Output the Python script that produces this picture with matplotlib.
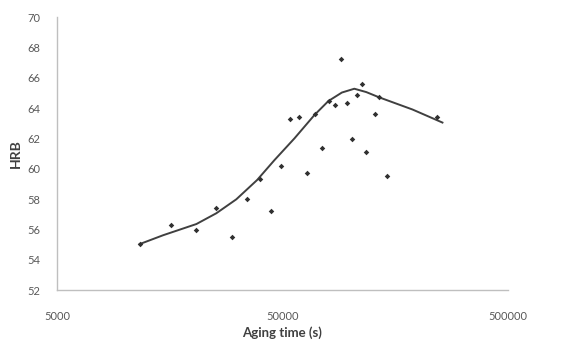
import matplotlib
matplotlib.use("Agg")
import matplotlib.pyplot as plt
from matplotlib.ticker import FixedLocator, FixedFormatter, NullLocator

# Measured points
aging_time = [11650, 16090, 20600, 25270, 29930, 34760, 39550, 44560, 49350,
              54250, 59450, 64300, 69800, 74930, 80700, 85500, 90950, 96280,
              101300, 106600, 112200, 117700, 128600, 133400, 145300, 243300]
hrb = [55.03, 56.3, 55.97, 57.4, 55.5, 58.0, 59.34, 57.2, 60.17,
       63.3, 63.4, 59.7, 63.6, 61.38, 64.48, 64.2, 67.2, 64.3,
       61.97, 64.88, 65.58, 61.08, 63.6, 64.7, 59.5, 63.38]

# Trend curve
curve_time = [11646, 14770, 20760, 25440, 31200, 38570, 46090, 56510, 69300,
              79900, 91700, 104100, 117600, 134300, 188600, 256000]
curve_hrb = [55.03, 55.61, 56.35, 57.06, 57.98, 59.25, 60.57, 62.0, 63.54,
             64.46, 65.02, 65.27, 65.05, 64.70, 63.90, 63.04]

x_ticks = [5000, 50000, 500000]
x_tick_labels = ["5000", "50000", "500000"]
y_ticks = [52, 54, 56, 58, 60, 62, 64, 66, 68, 70]

plt.rcParams['font.family'] = ['Lato', 'DejaVu Sans']

fig = plt.figure(figsize=(5.8, 3.44), dpi=100)
ax = fig.add_axes([57/580, 1 - 290/344, (508-57)/580, (290-17)/344])

ax.plot(curve_time, curve_hrb, color="#404040", lw=1.4, zorder=2,
        solid_joinstyle="round")
ax.scatter(aging_time, hrb, s=8, marker="D", color="#303030", zorder=3, linewidths=0)

ax.set_xscale("log")
ax.set_xlim(5000, 500000)
ax.set_ylim(52, 70)
ax.xaxis.set_major_locator(FixedLocator(x_ticks))
ax.xaxis.set_major_formatter(FixedFormatter(x_tick_labels))
ax.xaxis.set_minor_locator(NullLocator())
ax.set_yticks(y_ticks)
ax.set_yticklabels([str(v) for v in y_ticks])

for s in ["top", "right"]:
    ax.spines[s].set_visible(False)
for s in ["left", "bottom"]:
    ax.spines[s].set_color("#bfbfbf")
    ax.spines[s].set_linewidth(1.0)

ax.tick_params(axis="both", length=0, labelsize=8, labelcolor="#595959")
ax.tick_params(axis="x", pad=15)
ax.tick_params(axis="y", pad=12)

ax.set_xlabel("Aging time (s)", fontsize=9.5, fontweight="bold", color="#404040", labelpad=3)
ax.set_ylabel("HRB", fontsize=10, fontweight="bold", color="#404040", labelpad=4)

fig.savefig("out.png", dpi=100, facecolor="white")
